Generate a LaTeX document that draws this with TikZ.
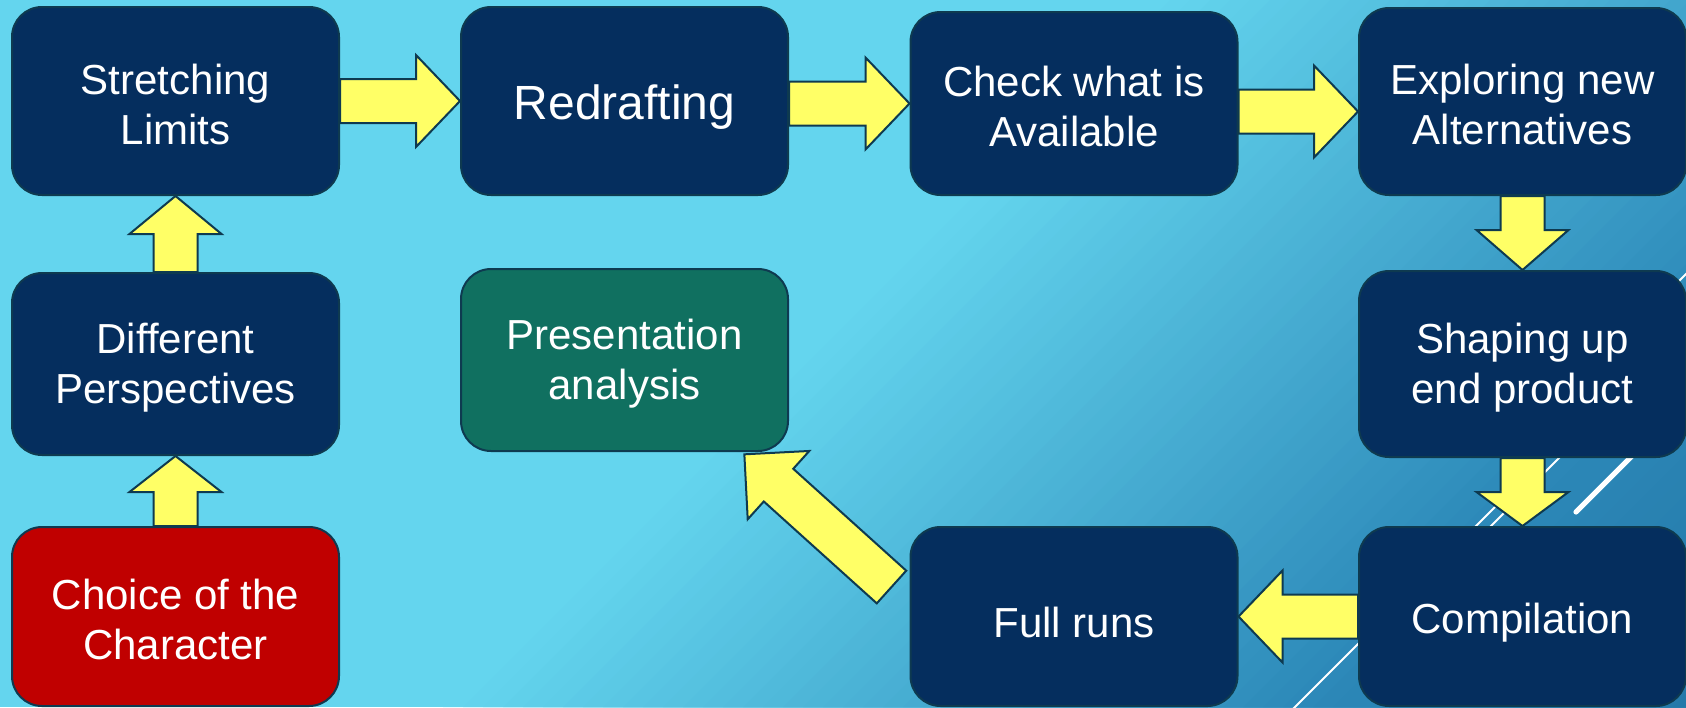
\documentclass[tikz,border=0pt]{standalone}
\usepackage{fontspec}
\setmainfont{Liberation Sans}
\usetikzlibrary{calc}
\definecolor{bgA}{HTML}{64D5EE}
\definecolor{bgB}{HTML}{2C88B8}
\definecolor{bgC}{HTML}{2478A8}
\definecolor{navy}{HTML}{052E5E}
\definecolor{boxred}{HTML}{C00000}
\definecolor{boxgreen}{HTML}{107060}
\definecolor{edgecol}{HTML}{0E3A50}
\definecolor{arrfill}{HTML}{FFFF66}
\tikzset{
  card/.style={draw=edgecol, line width=1pt, rounded corners=15pt, minimum width=163.5pt,
    inner sep=0pt},
  navycard/.style={card, fill=navy},
  cardtext/.style={inner sep=0pt, align=center, text=white, font=\fontsize{21}{25}\selectfont},
  twoline/.style={cardtext, yshift=-1.6pt},
  oneline/.style={cardtext, yshift=-3.2pt},
  deco/.style={draw=white, line width=1pt},
  decothick/.style={draw=white, line width=2.6pt, line cap=round},
  blockarr/.style={draw=edgecol, fill=arrfill, line width=1pt, line join=miter},
}
\newcommand\blockarrow[3][22pt]{%
  \path[blockarr]
    let \p1=(#2), \p2=(#3), \n1={atan2(\y2-\y1,\x2-\x1)}, \n2={veclen(\x2-\x1,\y2-\y1)} in
    [shift={(\p1)}, rotate=\n1]
    (0pt,-11pt) -- (\n2-#1,-11pt) -- (\n2-#1,-23pt) -- (\n2,0pt) -- (\n2-#1,23pt)
    -- (\n2-#1,11pt) -- (0pt,11pt) -- cycle;
}
\begin{document}
\begin{tikzpicture}[x=0.5pt, y=-0.5pt]
\useasboundingbox (0,0) rectangle (1686,707);
% background gradient
\begin{scope}
  \clip (0,0) rectangle (1686,707);
  \fill[bgA] (0,0) rectangle (1686,707);
  \foreach \c in {1150,1170,...,2000} {
    \pgfmathtruncatemacro\t{(\c-1150)/8.5}
    \fill[bgB!\t!bgA] (\c,0) -- (3200,0) -- (3200,707) -- (\c-707,707) -- cycle;
  }
  \foreach \c in {2020,2040,...,2400} {
    \pgfmathtruncatemacro\t{(\c-2000)/4}
    \fill[bgC!\t!bgB] (\c,0) -- (3200,0) -- (3200,707) -- (\c-707,707) -- cycle;
  }
  % decorative lines
  \draw[deco] (1290,712) -- (1530,472);
  \draw[deco] (1480,537) -- (1570,447);
  \draw[deco] (1665,295) -- (1700,260);
  \draw[decothick] (1576,512) -- (1640,448);
\end{scope}
% boxes
\node[navycard, minimum height=94pt] (stretch) at (175.5,101) {};
\node[navycard, minimum height=94pt] (redraft) at (624.5,101) {};
\node[navycard, minimum height=91.5pt] (check) at (1074,103.5) {};
\node[navycard, minimum height=93.5pt] (explore) at (1522.5,101.5) {};
\node[navycard, minimum height=91pt] (diff) at (175.5,364) {};
\node[card, fill=boxgreen, minimum height=91pt] (present) at (624.5,360) {};
\node[navycard, minimum height=93pt] (shaping) at (1522.5,364) {};
\node[card, fill=boxred, minimum height=89.5pt] (choice) at (175.5,616.5) {};
\node[navycard, minimum height=89.5pt] (fullruns) at (1074,616.5) {};
\node[navycard, minimum height=89.5pt] (compil) at (1522.5,616.5) {};
% texts
\node[twoline] (stretch-t) at (stretch.center) {Stretching\\Limits};
\node[oneline, font=\fontsize{24}{29}\selectfont] (redraft-t) at (redraft.center) {Redrafting};
\node[twoline] (check-t) at (check.center) {Check what is\\Available};
\node[twoline] (explore-t) at (explore.center) {Exploring new\\Alternatives};
\node[twoline] (diff-t) at (diff.center) {Different\\Perspectives};
\node[twoline] (present-t) at (present.center) {Presentation\\analysis};
\node[twoline] (shaping-t) at (shaping.center) {Shaping up\\end product};
\node[twoline] (choice-t) at (choice.center) {Choice of the\\Character};
\node[oneline] (fullruns-t) at (fullruns.center) {Full runs};
\node[oneline] (compil-t) at (compil.center) {Compilation};
% arrows
\blockarrow{stretch.east}{redraft.west}
\blockarrow{$(redraft.east)+(0,2.5)$}{check.west}
\blockarrow{$(check.east)+(0,8)$}{$(explore.west)+(0,10)$}
\blockarrow[20pt]{explore.south}{shaping.north}
\blockarrow[17pt]{shaping.south}{compil.north}
\blockarrow{compil.west}{fullruns.east}
\blockarrow[23pt]{$(fullruns.west)+(-18,-29.5)$}{$(present.south east)+(-45,2)$}
\blockarrow[18pt]{choice.north}{diff.south}
\blockarrow[19pt]{diff.north}{stretch.south}
\end{tikzpicture}
\end{document}
